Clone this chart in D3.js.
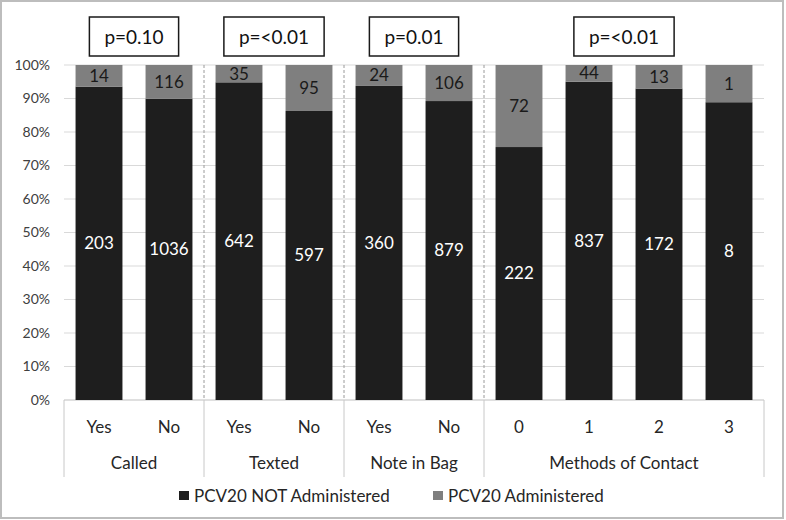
<!DOCTYPE html>
<html>
<head>
<meta charset="utf-8">
<script src="https://cdn.jsdelivr.net/npm/d3@7"></script>
<style>
  body { margin: 0; background: #fff; }
  svg { display: block; font-family: Lato, "Open Sans", sans-serif; }
  .tick-label { font-size: 14px; fill: #404040; }
  .cat-label { font-size: 17px; fill: #262626; }
  .bar-label { font-size: 17px; }
  .p-label { font-size: 19px; fill: #111; }
  .legend-label { font-size: 17px; fill: #262626; }
</style>
</head>
<body>
<div id="chart"></div>
<script>
// counts
const groups = ["Called", "Texted", "Note in Bag", "Methods of Contact"];
const categories = [
  ["Called", "Yes"], ["Called", "No"],
  ["Texted", "Yes"], ["Texted", "No"],
  ["Note in Bag", "Yes"], ["Note in Bag", "No"],
  ["Methods of Contact", "0"], ["Methods of Contact", "1"],
  ["Methods of Contact", "2"], ["Methods of Contact", "3"]
];
const notAdministered = [203, 1036, 642, 597, 360, 879, 222, 837, 172, 8];
const administered = [14, 116, 35, 95, 24, 106, 72, 44, 13, 1];
const pValues = ["p=0.10", "p=<0.01", "p=0.01", "p=<0.01"];
const seriesNames = ["PCV20 NOT Administered", "PCV20 Administered"];
const yTicks = [0, 0.1, 0.2, 0.3, 0.4, 0.5, 0.6, 0.7, 0.8, 0.9, 1];

const width = 786;
const height = 520;
const colors = { dark: "#1e1e1e", gray: "#7f7f7f" };

const svg = d3.select("#chart").append("svg")
  .attr("width", width)
  .attr("height", height);

svg.append("rect")
  .attr("x", 1)
  .attr("y", 1)
  .attr("width", width - 4)
  .attr("height", height - 3)
  .attr("fill", "#fff")
  .attr("stroke", "#bdbdbd")
  .attr("stroke-width", 2);

const rows = categories.map(([group, label], i) => ({
  key: i,
  group,
  label,
  notAdm: notAdministered[i],
  adm: administered[i]
}));

const x = d3.scaleBand()
  .domain(rows.map(d => d.key))
  .range([64, 764])
  .paddingInner(0.33)
  .paddingOuter(0.165);
const y = d3.scaleLinear().domain([0, 1]).range([400, 65]);

const stacked = d3.stack()
  .keys(["notAdm", "adm"])
  .offset(d3.stackOffsetExpand)(rows);

// gridlines + y labels
svg.append("g")
  .selectAll("line")
  .data(yTicks)
  .join("line")
  .attr("x1", 64)
  .attr("x2", 764)
  .attr("y1", d => y(d))
  .attr("y2", d => y(d))
  .attr("stroke", d => d === 0 ? "#bfbfbf" : "#d9d9d9")
  .attr("stroke-width", 1);

svg.append("g")
  .selectAll("text")
  .data(yTicks)
  .join("text")
  .attr("class", "tick-label")
  .attr("x", 50)
  .attr("y", d => y(d))
  .attr("dy", "0.35em")
  .attr("text-anchor", "end")
  .text(d3.format(".0%"));

// group boundaries
const groupEdges = groups.map(g => {
  const keys = rows.filter(d => d.group === g).map(d => d.key);
  const step = x.step();
  const left = x(keys[0]) - step * x.paddingInner() / 2;
  const right = x(keys[keys.length - 1]) + x.bandwidth() + step * x.paddingInner() / 2;
  return { group: g, left, right };
});
groupEdges[0].left = 64;
groupEdges[groupEdges.length - 1].right = 764;

svg.append("g")
  .selectAll("line")
  .data(groupEdges.slice(1))
  .join("line")
  .attr("x1", d => d.left)
  .attr("x2", d => d.left)
  .attr("y1", y(1))
  .attr("y2", y(0))
  .attr("stroke", "#9a9a9a")
  .attr("stroke-dasharray", "3,2");

const edgeXs = [64, ...groupEdges.slice(1).map(d => d.left), 764];
svg.append("g")
  .selectAll("line")
  .data(edgeXs)
  .join("line")
  .attr("x1", d => d)
  .attr("x2", d => d)
  .attr("y1", y(0))
  .attr("y2", 477)
  .attr("stroke", "#c8c8c8");

// bars
const layers = svg.append("g")
  .selectAll("g")
  .data(stacked)
  .join("g")
  .attr("fill", d => d.key === "notAdm" ? colors.dark : colors.gray);

layers.selectAll("rect")
  .data(d => d)
  .join("rect")
  .attr("x", d => x(d.data.key))
  .attr("width", x.bandwidth())
  .attr("y", d => y(d[1]))
  .attr("height", d => y(d[0]) - y(d[1]));

layers.selectAll("text")
  .data(d => d.map(v => ({ v, key: d.key })))
  .join("text")
  .attr("class", "bar-label")
  .attr("x", d => x(d.v.data.key) + x.bandwidth() / 2)
  .attr("y", d => (y(d.v[0]) + y(d.v[1])) / 2)
  .attr("dy", "0.35em")
  .attr("text-anchor", "middle")
  .attr("fill", d => d.key === "notAdm" ? "#fff" : "#1a1a1a")
  .text(d => d.v.data[d.key]);

// category labels
svg.append("g")
  .selectAll("text")
  .data(rows)
  .join("text")
  .attr("class", "cat-label")
  .attr("x", d => x(d.key) + x.bandwidth() / 2)
  .attr("y", 427)
  .attr("dy", "0.35em")
  .attr("text-anchor", "middle")
  .text(d => d.label);

svg.append("g")
  .selectAll("text")
  .data(groupEdges)
  .join("text")
  .attr("class", "cat-label")
  .attr("x", d => (d.left + d.right) / 2)
  .attr("y", 463)
  .attr("dy", "0.35em")
  .attr("text-anchor", "middle")
  .text(d => d.group);

// p-value boxes
const pBoxes = svg.append("g")
  .selectAll("g")
  .data(groupEdges.map((d, i) => ({ ...d, p: pValues[i] })))
  .join("g")
  .attr("transform", d => `translate(${(d.left + d.right) / 2},0)`);

pBoxes.append("text")
  .attr("class", "p-label")
  .attr("y", 37)
  .attr("dy", "0.35em")
  .attr("text-anchor", "middle")
  .text(d => d.p);

pBoxes.each(function () {
  const g = d3.select(this);
  const w = g.select("text").node().getComputedTextLength();
  const bw = w + 30;
  g.insert("rect", "text")
    .attr("x", -bw / 2)
    .attr("y", 17)
    .attr("width", bw)
    .attr("height", 39)
    .attr("fill", "#fff")
    .attr("stroke", "#1a1a1a")
    .attr("stroke-width", 1.5);
});

// legend
const legendItems = [
  { name: seriesNames[0], color: colors.dark, x: 179 },
  { name: seriesNames[1], color: colors.gray, x: 433 }
];
const legend = svg.append("g")
  .selectAll("g")
  .data(legendItems)
  .join("g")
  .attr("transform", d => `translate(${d.x},491)`);
legend.append("rect")
  .attr("width", 10)
  .attr("height", 9)
  .attr("fill", d => d.color);
legend.append("text")
  .attr("class", "legend-label")
  .attr("x", 15)
  .attr("y", 5)
  .attr("dy", "0.35em")
  .text(d => d.name);
</script>
</body>
</html>
